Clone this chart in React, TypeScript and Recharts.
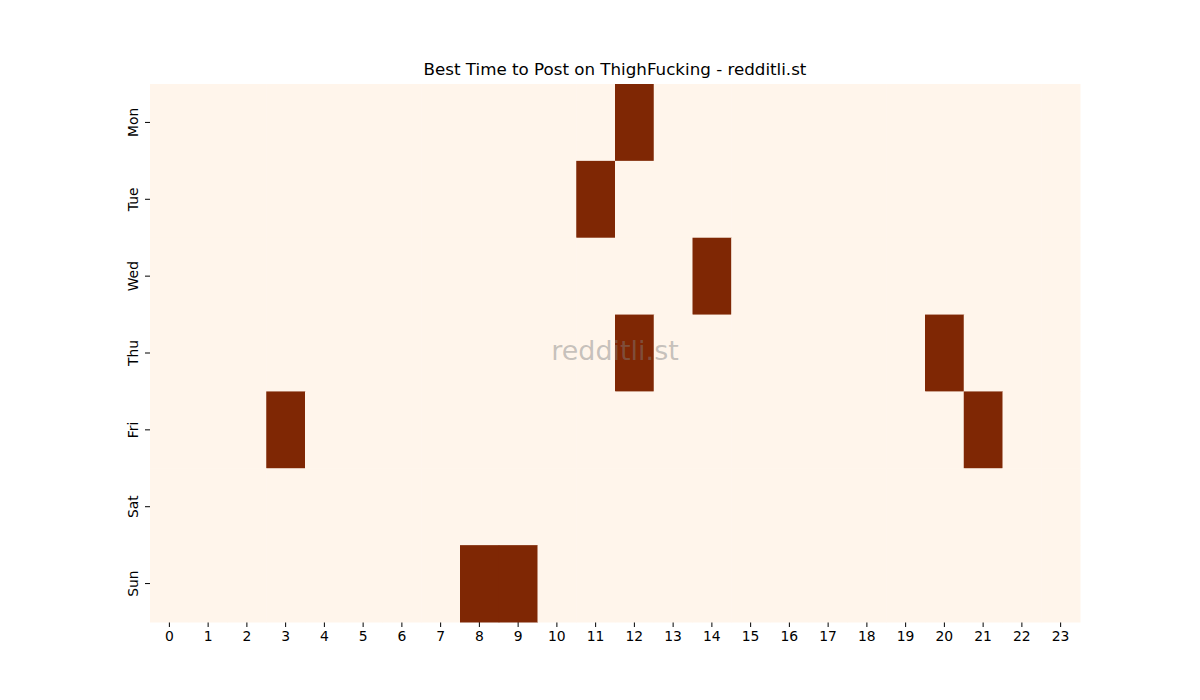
import { ScatterChart, Scatter, XAxis, YAxis } from "recharts";

const days = ["Mon", "Tue", "Wed", "Thu", "Fri", "Sat", "Sun"];
const hours = Array.from({ length: 24 }, (_, i) => i);

// hours that light up for each day (value 1), everything else is 0
const monHot = [12];
const tueHot = [11];
const wedHot = [14];
const thuHot = [12, 20];
const friHot = [3, 21];
const satHot: number[] = [];
const sunHot = [8, 9];
const hotHours = [monHot, tueHot, wedHot, thuHot, friHot, satHot, sunHot];

const LOW = "#fff5eb";
const HIGH = "#7f2704";

const W = 1200;
const H = 700;
const M = { top: 84, right: 120, bottom: 48, left: 120 };
const YW = 30;
const XH = 30;
const plotW = W - M.left - M.right - YW;
const plotH = H - M.top - M.bottom - XH;
const cellW = plotW / hours.length;
const cellH = plotH / days.length;

type Cell = { hour: number; day: number; value: number };

const cells: Cell[] = [];
days.forEach((_, d) => {
    hours.forEach((h) => {
        cells.push({ hour: h, day: d, value: hotHours[d].includes(h) ? 1 : 0 });
    });
});

const font = "'DejaVu Sans', sans-serif";

const CellShape = (props: any) => {
    const { cx, cy, payload } = props;
    return (
        <rect
            x={cx - cellW / 2}
            y={cy - cellH / 2}
            width={cellW + 0.5}
            height={cellH + 0.5}
            fill={payload.value ? HIGH : LOW}
        />
    );
};

const DayTick = (props: any) => {
    const { x, y, payload } = props;
    const tx = x - 5;
    return (
        <text
            x={tx}
            y={y}
            transform={`rotate(-90, ${tx}, ${y})`}
            textAnchor="middle"
            fontSize={13.9}
            fontFamily={font}
            fill="#000"
        >
            {days[payload.value]}
        </text>
    );
};

const App = () => {
    return (
        <div style={{ position: "absolute", left: 0, top: 0, width: W, height: H, background: "#fff" }}>
            <div
                style={{
                    position: "absolute",
                    left: M.left + YW,
                    width: plotW,
                    top: 59,
                    textAlign: "center",
                    fontFamily: font,
                    fontSize: 16.7,
                    color: "#000",
                }}
            >
                Best Time to Post on ThighFucking - redditli.st
            </div>
            <ScatterChart width={W} height={H} margin={M}>
                <XAxis
                    type="number"
                    dataKey="hour"
                    domain={[-0.5, 23.5]}
                    ticks={hours}
                    interval={0}
                    axisLine={false}
                    tickLine={{ stroke: "#000" }}
                    tickSize={5}
                    height={XH}
                    tick={{ fontSize: 13.9, fontFamily: font, fill: "#000", dy: 2 }}
                />
                <YAxis
                    type="number"
                    dataKey="day"
                    domain={[-0.5, 6.5]}
                    ticks={days.map((_, i) => i)}
                    interval={0}
                    reversed
                    axisLine={false}
                    tickLine={{ stroke: "#000" }}
                    tickSize={5}
                    width={YW}
                    tick={<DayTick />}
                />
                <Scatter data={cells} shape={<CellShape />} isAnimationActive={false} />
            </ScatterChart>
            <div
                style={{
                    position: "absolute",
                    left: M.left + YW,
                    width: plotW,
                    top: 335,
                    textAlign: "center",
                    fontFamily: font,
                    fontSize: 27,
                    color: "rgba(128,128,128,0.45)",
                    pointerEvents: "none",
                }}
            >
                redditli.st
            </div>
        </div>
    );
};

export default App;
